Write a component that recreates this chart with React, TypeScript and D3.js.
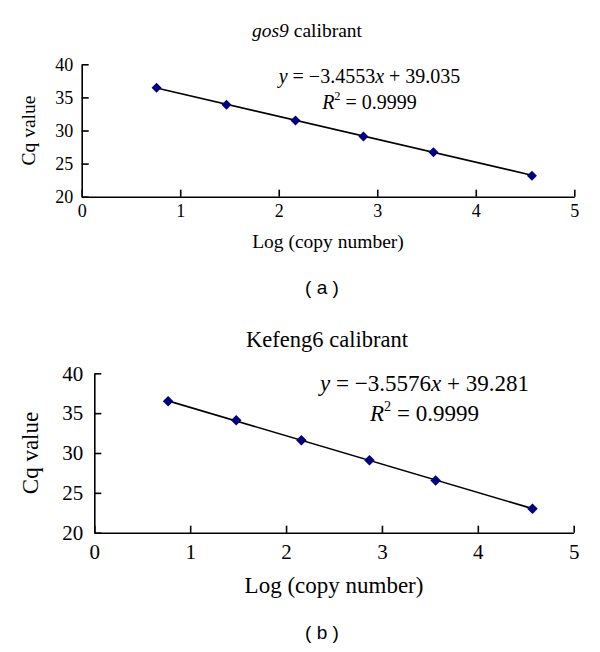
import React, { useEffect, useRef } from "react";
import * as d3 from "d3";

const xTicks = [0, 1, 2, 3, 4, 5];
const yTicks = [20, 25, 30, 35, 40];

// (a) gos9 calibrant
const gosLog = [0.76, 1.47, 2.17, 2.86, 3.57, 4.57];
const gosCq = [36.45, 33.88, 31.5, 29.1, 26.72, 23.15];
const gosSlope = -3.4553;
const gosIntercept = 39.035;
const gosR2 = 0.9999;

// (b) Kefeng6 calibrant
const kefLog = [0.77, 1.48, 2.16, 2.87, 3.56, 4.57];
const kefCq = [36.5, 34.1, 31.6, 29.08, 26.55, 23.0];
const kefSlope = -3.5576;
const kefIntercept = 39.281;
const kefR2 = 0.9999;

const serif = "'Liberation Serif', 'Times New Roman', serif";
const sans = "'Liberation Sans', Arial, sans-serif";

function drawPanel(root: any, p: any) {
  const g = root.append("g");
  const x = d3.scaleLinear().domain([0, 5]).range([p.left, p.right]);
  const y = d3.scaleLinear().domain([20, 40]).range([p.bottom, p.top]);

  const styleAxis = (sel: any) => {
    sel.attr("font-family", null).attr("font-size", null);
    sel.selectAll("text")
      .attr("fill", "#000")
      .style("font-family", serif)
      .style("font-size", p.tick + "px");
    sel.select(".domain").attr("stroke-width", 1.6);
    sel.selectAll(".tick line").attr("stroke-width", 1.6);
  };

  g.append("g")
    .attr("transform", `translate(0,${p.bottom})`)
    .call(
      d3.axisBottom(x).tickValues(xTicks).tickSizeInner(-7).tickSizeOuter(0)
        .tickPadding(p.xPad).tickFormat(d3.format("d"))
    )
    .call(styleAxis);

  g.append("g")
    .attr("transform", `translate(${p.left},0)`)
    .call(
      d3.axisLeft(y).tickValues(yTicks).tickSizeInner(-7).tickSizeOuter(0)
        .tickPadding(p.yPad).tickFormat(d3.format("d"))
    )
    .call(styleAxis);

  // trendline over the range of the data
  const [x0, x1] = d3.extent(p.xs) as [number, number];
  g.append("line")
    .attr("x1", x(x0)).attr("y1", y(p.slope * x0 + p.intercept))
    .attr("x2", x(x1)).attr("y2", y(p.slope * x1 + p.intercept))
    .attr("stroke", "#000").attr("stroke-width", 1.6);

  const sym = d3.symbol().type(d3.symbolSquare).size(p.marker);
  g.append("g").selectAll("path")
    .data(p.xs.map((v: number, i: number) => [v, p.ys[i]]))
    .join("path")
    .attr("d", sym)
    .attr("transform", (d: number[]) => `translate(${x(d[0])},${y(d[1])}) rotate(45)`)
    .attr("fill", "#000080");

  // equation
  const eq = g.append("text")
    .attr("x", p.eqX).attr("y", p.eqY)
    .attr("text-anchor", "middle")
    .attr("font-family", serif).attr("font-size", p.eqSize);
  eq.append("tspan").attr("font-style", "italic").text("y");
  eq.append("tspan").text(` = ${d3.format(".4f")(p.slope)}`);
  eq.append("tspan").attr("font-style", "italic").text("x");
  eq.append("tspan").text(` + ${d3.format(".3f")(p.intercept)}`);

  const r2 = g.append("text")
    .attr("x", p.eqX).attr("y", p.r2Y)
    .attr("text-anchor", "middle")
    .attr("font-family", serif).attr("font-size", p.eqSize);
  r2.append("tspan").attr("font-style", "italic").text("R");
  r2.append("tspan").attr("dy", -p.eqSize * 0.42).attr("font-size", p.eqSize * 0.62).text("2");
  r2.append("tspan").attr("dy", p.eqSize * 0.42).text(` = ${p.r2}`);

  // title
  const t = g.append("text")
    .attr("x", p.titleX).attr("y", p.titleY)
    .attr("text-anchor", "middle")
    .attr("font-family", serif).attr("font-size", p.titleSize);
  if (p.titleItalic) t.append("tspan").attr("font-style", "italic").text(p.titleItalic);
  t.append("tspan").text(p.titleRest);

  g.append("text")
    .attr("x", (p.left + p.right) / 2).attr("y", p.xTitleY)
    .attr("text-anchor", "middle")
    .attr("font-family", serif).attr("font-size", p.axisSize)
    .text("Log (copy number)");

  g.append("text")
    .attr("transform", `translate(${p.yTitleX},${(p.top + p.bottom) / 2}) rotate(-90)`)
    .attr("text-anchor", "middle")
    .attr("font-family", serif).attr("font-size", p.yAxisSize)
    .text("Cq value");

  g.append("text")
    .attr("x", p.capX).attr("y", p.capY)
    .attr("text-anchor", "middle")
    .attr("font-family", sans).attr("font-size", 19)
    .attr("xml:space", "preserve")
    .text(p.caption);
}

export default function App() {
  const ref = useRef<SVGSVGElement>(null);

  useEffect(() => {
    const svg = d3.select(ref.current);
    svg.selectAll("*").remove();
    svg.append("rect").attr("width", 600).attr("height", 652).attr("fill", "#fff");

    drawPanel(svg, {
      left: 81.7, right: 574.3, top: 64.3, bottom: 196.7,
      xs: gosLog, ys: gosCq, slope: gosSlope, intercept: gosIntercept, r2: gosR2,
      tick: 18, xPad: 7.5, yPad: 8.5, marker: 50,
      eqX: 369.5, eqY: 83.3, r2Y: 108.5, eqSize: 20,
      titleX: 307, titleY: 37, titleSize: 19.5, titleItalic: "gos9", titleRest: " calibrant",
      xTitleY: 248, axisSize: 19.5, yTitleX: 34.5, yAxisSize: 19.5,
      capX: 322, capY: 294, caption: "( a )",
    });

    drawPanel(svg, {
      left: 94.3, right: 573.7, top: 373.3, bottom: 532.7,
      xs: kefLog, ys: kefCq, slope: kefSlope, intercept: kefIntercept, r2: kefR2,
      tick: 21, xPad: 11, yPad: 11, marker: 56,
      eqX: 424.5, eqY: 390.7, r2Y: 420.7, eqSize: 23,
      titleX: 327, titleY: 346.7, titleSize: 22.5, titleItalic: null, titleRest: "Kefeng6 calibrant",
      xTitleY: 593.3, axisSize: 23, yTitleX: 37.5, yAxisSize: 23,
      capX: 322, capY: 639, caption: "( b )",
    });
  }, []);

  return (
    <svg
      ref={ref}
      width={600}
      height={652}
      style={{ position: "absolute", left: 0, top: 0 }}
    />
  );
}
